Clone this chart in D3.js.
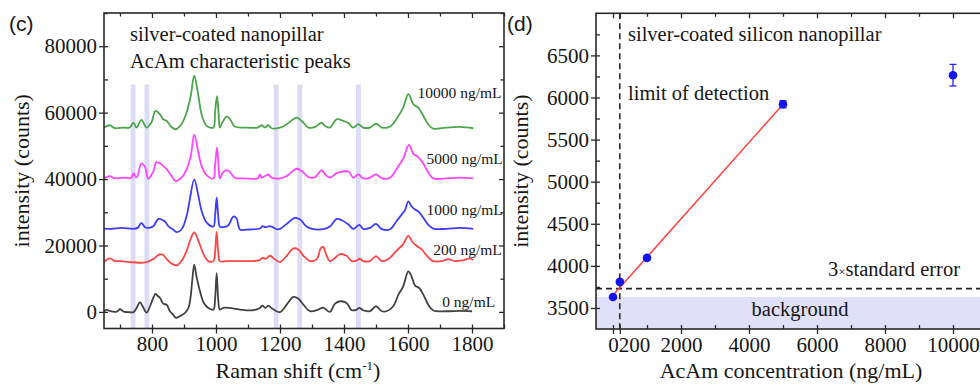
<!DOCTYPE html>
<html>
<head>
<meta charset="utf-8">
<script src="https://cdn.jsdelivr.net/npm/d3@7"></script>
<style>
  html, body { margin: 0; padding: 0; background: #fff; }
  svg { display: block; }
  text { font-family: "Liberation Serif", "Times New Roman", serif; fill: #161616; }
  .panel-tag { font-family: "Liberation Sans", Arial, sans-serif; }
</style>
</head>
<body>
<svg id="chart" width="980" height="385"></svg>
<script>
// ---------- Panel (c): Raman spectra, [wavenumber cm-1, counts] ----------
const spec0 = [[650,200],[660,600],[670,200],[690,100],[700,800],[712,100],[730,-100],[742,-100],[752,1200],[762,2900],[772,1500],[783,-200],[795,2000],[803,4000],[811,5400],[818,4800],[825,4200],[835,2500],[846,2100],[856,200],[866,-800],[875,-1800],[887,-1300],[903,-300],[914,1200],[920,4000],[926,9700],[932,14200],[939,10700],[950,6200],[962,2700],[976,1200],[992,700],[997,3700],[1002,11700],[1007,3700],[1012,700],[1022,1200],[1040,1200],[1075,700],[1115,500],[1137,1200],[1145,1900],[1154,1200],[1163,1900],[1173,1200],[1200,-100],[1221,2200],[1242,4500],[1257,4000],[1273,2200],[1294,200],[1320,700],[1335,1300],[1356,0],[1372,2500],[1388,3200],[1408,2700],[1424,500],[1440,700],[1448,1200],[1460,500],[1481,200],[1500,1700],[1518,200],[1533,200],[1554,1700],[1570,5200],[1585,7700],[1601,12200],[1611,10700],[1622,7900],[1635,7200],[1648,5200],[1663,2200],[1679,400],[1720,200],[1760,300],[1800,200]];

const spec200 = [[650,15000],[668,16100],[684,15300],[700,15300],[730,15000],[762,14800],[783,15000],[804,15900],[825,17400],[835,17100],[846,15900],[861,14600],[877,14000],[892,15300],[908,18300],[920,21800],[932,23900],[945,21400],[961,17400],[976,15300],[992,15300],[997,17900],[1002,24100],[1007,17900],[1012,15300],[1033,15300],[1075,15300],[1115,15300],[1137,15600],[1145,16300],[1155,16000],[1169,16900],[1183,15900],[1200,15000],[1221,16900],[1242,19100],[1257,18800],[1273,16900],[1294,15300],[1315,15900],[1327,19100],[1335,19600],[1344,17400],[1356,15300],[1372,16300],[1388,17400],[1408,16900],[1424,15300],[1440,15500],[1448,16000],[1460,15300],[1481,15300],[1500,16800],[1518,15300],[1539,15900],[1560,18000],[1575,19400],[1585,20400],[1601,22900],[1615,20900],[1627,19900],[1643,18800],[1658,17000],[1679,15300],[1705,15300],[1726,15900],[1745,15300],[1775,15600],[1794,16100],[1804,15600]];

const spec1000 = [[650,25100],[675,25000],[705,25300],[742,25000],[755,25300],[767,26800],[778,25500],[790,25300],[804,25800],[820,28000],[830,27800],[840,27300],[851,25800],[866,24800],[877,24000],[892,24800],[908,28800],[918,33800],[932,39900],[945,34900],[955,30400],[971,26900],[992,25700],[997,28800],[1002,34400],[1007,28800],[1012,25700],[1023,25500],[1038,26000],[1054,28700],[1064,28200],[1075,24800],[1096,24800],[1137,25100],[1145,25800],[1155,25500],[1169,25800],[1190,24900],[1200,25000],[1221,26500],[1247,28300],[1263,27800],[1283,25700],[1304,24900],[1335,24900],[1356,25700],[1377,28000],[1393,27600],[1414,26300],[1429,25000],[1448,26200],[1460,25000],[1481,25300],[1500,26500],[1518,24900],[1544,24900],[1564,27300],[1580,29300],[1590,30500],[1601,33300],[1611,31800],[1622,30800],[1632,30300],[1648,28300],[1663,26300],[1679,25100],[1720,25000],[1762,25300],[1804,25000]];

const spec5000 = [[650,40200],[668,40900],[684,40200],[710,40400],[736,40400],[742,41800],[752,40400],[767,44700],[778,43700],[788,40100],[804,42300],[814,45100],[830,44400],[846,42900],[861,40900],[874,39400],[892,40400],[908,42900],[921,46900],[932,53400],[945,47900],[955,43900],[971,41100],[992,40200],[997,43900],[1003,49500],[1008,43900],[1012,40200],[1020,41800],[1033,42700],[1044,42100],[1059,40400],[1090,40200],[1130,40200],[1137,41400],[1143,40400],[1153,40900],[1163,41400],[1174,40400],[1200,40200],[1221,40900],[1252,43100],[1268,42400],[1289,40600],[1310,40600],[1330,42700],[1341,41400],[1356,40400],[1377,41800],[1398,42300],[1414,42300],[1429,40400],[1445,41400],[1460,40200],[1481,40400],[1500,41400],[1518,40200],[1544,40400],[1570,43900],[1585,46100],[1603,50300],[1617,47600],[1632,46600],[1648,44600],[1663,42000],[1679,40200],[1720,40200],[1762,40400],[1804,40200]];

const spec10000 = [[650,55500],[668,56200],[684,55300],[710,55500],[730,55500],[742,57000],[752,55500],[767,57800],[783,55500],[798,57000],[811,60500],[825,59500],[835,58000],[846,57500],[861,55700],[874,55000],[892,56500],[908,60000],[921,65000],[932,71100],[945,65000],[955,59500],[971,56000],[992,55500],[997,60000],[1003,65000],[1008,60000],[1012,55500],[1020,57000],[1033,58800],[1044,58000],[1059,55800],[1090,55500],[1130,55500],[1143,56200],[1153,55500],[1163,56200],[1174,55300],[1200,55500],[1221,56500],[1252,58500],[1268,57500],[1289,55500],[1310,55700],[1330,57000],[1341,56000],[1356,55500],[1377,58000],[1398,57500],[1414,56800],[1429,55500],[1445,56500],[1460,55500],[1481,55500],[1500,56700],[1518,55500],[1544,55800],[1570,59000],[1585,61500],[1601,65600],[1617,62500],[1632,61500],[1648,59000],[1663,56500],[1679,55200],[1720,55500],[1762,55700],[1804,55300]];

const spectraNames = ["10000 ng/mL", "5000 ng/mL", "1000 ng/mL", "200 ng/mL", "0 ng/mL"];
const spectraColors = ["#4ba64b", "#ff45ff", "#3d3dff", "#ff4646", "#424242"];
// label anchor [wavenumber, counts] for each concentration label
const spectraLabelPos = [[1630, 64500], [1658, 44600], [1658, 29200], [1679, 17100], [1707, 1400]];

// AcAm characteristic peak positions (cm-1), shaded
const peakBands = [741, 784, 1188, 1262, 1445];
const bandHalfWidth = 7.5;
const bandTop = 68500;

const xTicksC = [800, 1000, 1200, 1400, 1600, 1800];
const xMinorC = [700, 900, 1100, 1300, 1500, 1700, 1900];
const yTicksC = [0, 20000, 40000, 60000, 80000];
const yMinorC = [10000, 30000, 50000, 70000, 90000];

// ---------- Panel (d): calibration ----------
const concentration = [0, 200, 1000, 5000, 10000];
const peakIntensity = [3630, 3810, 4095, 5920, 6265];
const intensityErr = [15, 20, 20, 42, 128];
const fitConc = [0, 5000];
const fitIntensity = [3650, 5920];
const detectionLimit = 200;
const threeSigmaLevel = 3730;
const backgroundLevel = 3630;

const xTicksD = [0, 200, 2000, 4000, 6000, 8000, 10000];
const xMinorD = [1000, 3000, 5000, 7000, 9000, 11000];
const yTicksD = [3500, 4000, 4500, 5000, 5500, 6000, 6500];
const yMinorD = [3750, 4250, 4750, 5250, 5750, 6250, 6750];

// ---------- drawing ----------
const svg = d3.select("#chart");
const AXIS = "#2a2a2a";

function drawFrame(g, x, y, o) {
  const [x0, x1] = x.range();
  const [y0, y1] = y.range(); // y0 bottom, y1 top
  const strip = sel => { sel.select(".domain").remove(); sel.selectAll("line").attr("stroke", AXIS).attr("stroke-width", 1.3); };

  // bottom: labelled majors outward, majors + minors inward
  g.append("g").attr("transform", `translate(0,${y0})`)
    .call(d3.axisBottom(x).tickValues(o.xMajor).tickSize(5).tickPadding(3).tickFormat(o.xFormat || d3.format("d")))
    .call(strip).call(s => s.selectAll("text").attr("font-size", 21).attr("fill", "#161616"))
    .call(o.xLabelTweak || (() => {}));
  g.append("g").attr("transform", `translate(0,${y0})`)
    .call(d3.axisBottom(x).tickValues(o.xMajor.concat(o.xMinor)).tickSize(-4).tickFormat(""))
    .call(strip);
  // top mirror, inward
  g.append("g").attr("transform", `translate(0,${y1})`)
    .call(d3.axisTop(x).tickValues(o.xMajor).tickSize(-5).tickFormat("")).call(strip);
  g.append("g").attr("transform", `translate(0,${y1})`)
    .call(d3.axisTop(x).tickValues(o.xMinor).tickSize(-3.5).tickFormat("")).call(strip);

  // left
  g.append("g").attr("transform", `translate(${x0},0)`)
    .call(d3.axisLeft(y).tickValues(o.yMajor).tickSize(5).tickPadding(2).tickFormat(d3.format("d")))
    .call(strip).call(s => s.selectAll("text").attr("font-size", 21).attr("fill", "#161616"));
  g.append("g").attr("transform", `translate(${x0},0)`)
    .call(d3.axisLeft(y).tickValues(o.yMajor.concat(o.yMinor)).tickSize(-4).tickFormat(""))
    .call(strip);
  // right mirror, inward
  g.append("g").attr("transform", `translate(${x1},0)`)
    .call(d3.axisRight(y).tickValues(o.yMajor).tickSize(-5).tickFormat("")).call(strip);
  g.append("g").attr("transform", `translate(${x1},0)`)
    .call(d3.axisRight(y).tickValues(o.yMinor).tickSize(-3.5).tickFormat("")).call(strip);

  g.append("rect").attr("x", x0).attr("y", y1).attr("width", x1 - x0).attr("height", y0 - y1)
    .attr("fill", "none").attr("stroke", AXIS).attr("stroke-width", 1.6);
}

// ===== Panel (c) =====
const xC = d3.scaleLinear().domain([650, 1900]).range([104, 504]);
const yC = d3.scaleLinear().domain([-5000, 90000]).range([328.5, 13]);
const gC = svg.append("g");

gC.append("g").selectAll("rect").data(peakBands).join("rect")
  .attr("x", d => xC(d - bandHalfWidth))
  .attr("width", d => xC(d + bandHalfWidth) - xC(d - bandHalfWidth))
  .attr("y", yC(bandTop))
  .attr("height", yC(-5000) - yC(bandTop))
  .attr("fill", "#dcdcf6");

const lineC = d3.line().x(d => xC(d[0])).y(d => yC(d[1])).curve(d3.curveCatmullRom.alpha(0.5));
const spectra = [spec10000, spec5000, spec1000, spec200, spec0];
gC.append("g").selectAll("path").data(spectra).join("path")
  .attr("d", lineC)
  .attr("fill", "none")
  .attr("stroke", (d, i) => spectraColors[i])
  .attr("stroke-width", 1.8)
  .attr("stroke-linejoin", "round");

gC.append("g").selectAll("text").data(spectraNames).join("text")
  .attr("x", (d, i) => xC(spectraLabelPos[i][0]))
  .attr("y", (d, i) => yC(spectraLabelPos[i][1]))
  .attr("font-size", 15.5)
  .text(d => d);

drawFrame(gC, xC, yC, { xMajor: xTicksC, xMinor: xMinorC, yMajor: yTicksC, yMinor: yMinorC });

gC.append("text").attr("x", 130).attr("y", 41).attr("font-size", 20.5).text("silver-coated nanopillar");
gC.append("text").attr("x", 130).attr("y", 68).attr("font-size", 20.5).text("AcAm characteristic peaks");

const xtC = gC.append("text").attr("x", 298).attr("y", 378).attr("text-anchor", "middle").attr("font-size", 22);
xtC.append("tspan").text("Raman shift (cm");
xtC.append("tspan").attr("font-size", 13).attr("dy", -8).text("-1");
xtC.append("tspan").attr("dy", 8).text(")");

gC.append("text").attr("transform", `translate(29,${(13 + 328.5) / 2}) rotate(-90)`)
  .attr("text-anchor", "middle").attr("font-size", 22).text("intensity (counts)");

svg.append("text").attr("class", "panel-tag").attr("x", 9).attr("y", 31).attr("font-size", 21).text("(c)");

// ===== Panel (d) =====
const xD = d3.scaleLinear().domain([-500, 11000]).range([596, 987]);
const yD = d3.scaleLinear().domain([3250, 7000]).range([329, 13.3]);
const gD = svg.append("g");

gD.append("rect")
  .attr("x", xD(-500)).attr("width", xD(11000) - xD(-500))
  .attr("y", yD(backgroundLevel)).attr("height", yD(3250) - yD(backgroundLevel))
  .attr("fill", "#e0e0f8");

gD.append("line")
  .attr("x1", xD(-500)).attr("x2", xD(11000))
  .attr("y1", yD(threeSigmaLevel)).attr("y2", yD(threeSigmaLevel))
  .attr("stroke", "#222").attr("stroke-width", 1.7).attr("stroke-dasharray", "6,4");
gD.append("line")
  .attr("x1", xD(detectionLimit)).attr("x2", xD(detectionLimit))
  .attr("y1", yD(7000)).attr("y2", yD(3250))
  .attr("stroke", "#333").attr("stroke-width", 1.7).attr("stroke-dasharray", "6,4");

gD.append("path")
  .datum(fitConc.map((c, i) => [c, fitIntensity[i]]))
  .attr("d", d3.line().x(d => xD(d[0])).y(d => yD(d[1])))
  .attr("fill", "none").attr("stroke", "#ff4545").attr("stroke-width", 1.6);

const pts = concentration.map((c, i) => ({ c, v: peakIntensity[i], e: intensityErr[i] }));
const eb = gD.append("g").attr("stroke", "#2626f0").attr("stroke-width", 1.3);
eb.selectAll(".v").data(pts).join("line")
  .attr("x1", d => xD(d.c)).attr("x2", d => xD(d.c))
  .attr("y1", d => yD(d.v - d.e)).attr("y2", d => yD(d.v + d.e));
eb.selectAll(".t").data(pts).join("line")
  .attr("x1", d => xD(d.c) - 3.5).attr("x2", d => xD(d.c) + 3.5)
  .attr("y1", d => yD(d.v + d.e)).attr("y2", d => yD(d.v + d.e));
eb.selectAll(".b").data(pts).join("line")
  .attr("x1", d => xD(d.c) - 3.5).attr("x2", d => xD(d.c) + 3.5)
  .attr("y1", d => yD(d.v - d.e)).attr("y2", d => yD(d.v - d.e));
gD.append("g").selectAll("circle").data(pts).join("circle")
  .attr("cx", d => xD(d.c)).attr("cy", d => yD(d.v)).attr("r", 4.3)
  .attr("fill", "#1414f0");

drawFrame(gD, xD, yD, {
  xMajor: xTicksD, xMinor: xMinorD, yMajor: yTicksD, yMinor: yMinorD,
  // "0" and "200" sit side by side under the crowded origin
  xLabelTweak: sel => sel.selectAll(".tick").filter(d => d === 200).select("text")
    .attr("text-anchor", "start").attr("x", xD(0) + 5.3 - xD(200))
});

gD.append("text").attr("x", 628).attr("y", 41).attr("font-size", 20.5).text("silver-coated silicon nanopillar");
gD.append("text").attr("x", 628).attr("y", 100).attr("font-size", 20.5).text("limit of detection");
const se = gD.append("text").attr("x", 828).attr("y", 276).attr("font-size", 20.5);
se.append("tspan").text("3");
se.append("tspan").attr("font-size", 13).text("×");
se.append("tspan").text("standard error");
gD.append("text").attr("x", 800).attr("y", 316).attr("text-anchor", "middle").attr("font-size", 20.5).text("background");

gD.append("text").attr("x", 791).attr("y", 378).attr("text-anchor", "middle").attr("font-size", 22)
  .text("AcAm concentration (ng/mL)");
gD.append("text").attr("transform", `translate(528,${(13.3 + 329) / 2}) rotate(-90)`)
  .attr("text-anchor", "middle").attr("font-size", 22).text("intensity (counts)");

svg.append("text").attr("class", "panel-tag").attr("x", 507).attr("y", 31).attr("font-size", 21).text("(d)");
</script>
</body>
</html>
